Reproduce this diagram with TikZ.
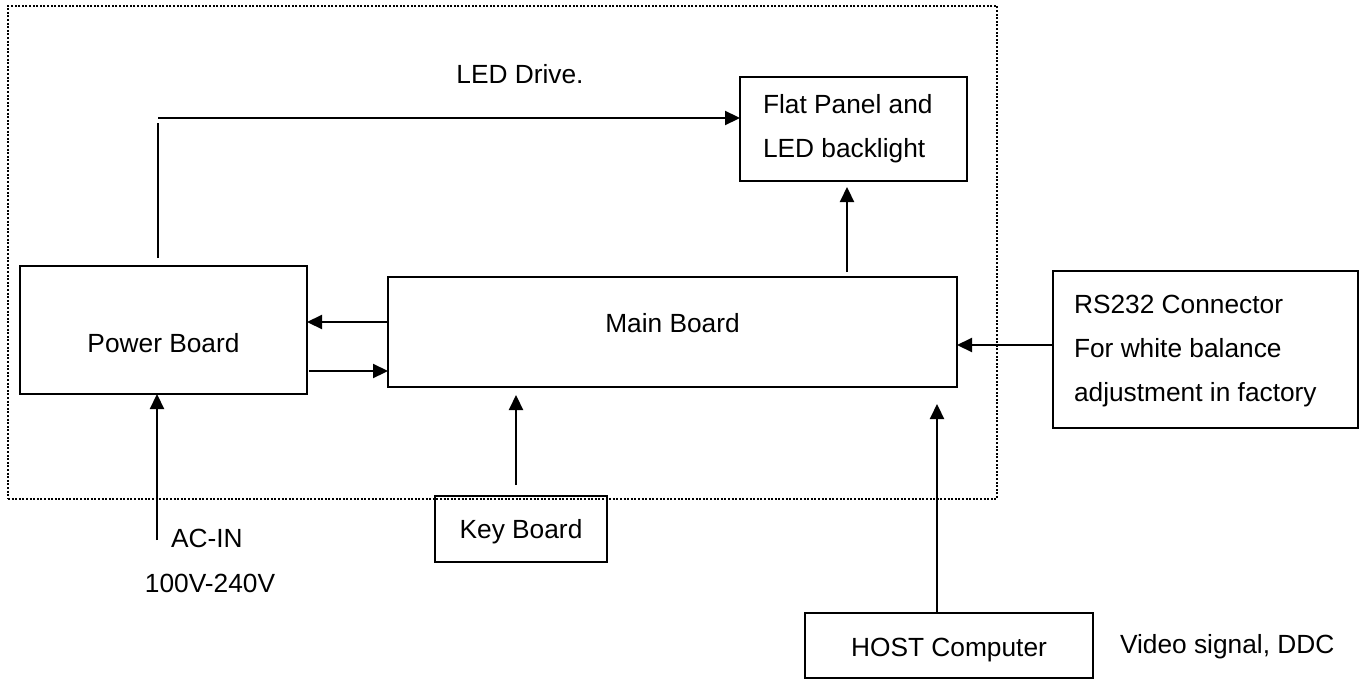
\documentclass[tikz,border=0pt]{standalone}
\usepackage{fontspec}
\setmainfont{Liberation Sans}
\usetikzlibrary{arrows.meta,calc}
\begin{document}
\begin{tikzpicture}[x=1pt,y=-1pt,
  box/.style={draw, line width=2.6pt, inner sep=0pt, outer sep=0pt, rectangle},
  txt/.style={inner sep=0pt, outer sep=0pt, font=\fontsize{26.3pt}{32pt}\selectfont},
  conn/.style={line width=2.2pt, -{Triangle[length=15pt,width=14pt]}},
  plainline/.style={line width=2.2pt},
  frame/.style={draw, line width=2pt, dash pattern=on 2pt off 1.6pt, inner sep=0pt, outer sep=0pt, rectangle}]
\useasboundingbox (0,0) rectangle (1364,680);
% frame
\node[frame, minimum width=989pt, minimum height=493pt] (frm) at (502.5,252.5) {};
% boxes
\node[box, minimum width=287pt, minimum height=128pt] (pwr) at (163.5,330) {};
\node[box, minimum width=569pt, minimum height=110pt] (main) at (672.5,332) {};
\node[box, minimum width=227pt, minimum height=104pt] (flat) at (853.5,129) {};
\node[box, minimum width=305pt, minimum height=157pt] (rs) at (1205.5,349.5) {};
\node[box, minimum width=172pt, minimum height=66pt] (key) at (521,529) {};
\node[box, minimum width=288pt, minimum height=65pt] (host) at (949,645.5) {};
% texts
\node[txt, anchor=base] (ledT) at (520,83) {LED Drive.};
\node[txt, anchor=base] (pwrT) at (163.5,352) {Power Board};
\node[txt, anchor=base] (mainT) at (672.5,332) {Main Board};
\node[txt, anchor=base west] (flatT1) at (763,113) {Flat Panel and};
\node[txt, anchor=base west] (flatT2) at (763,157) {LED backlight};
\node[txt, anchor=base west] (rsT1) at (1074,313) {RS232 Connector};
\node[txt, anchor=base west] (rsT2) at (1074,357) {For white balance};
\node[txt, anchor=base west] (rsT3) at (1074,401) {adjustment in factory};
\node[txt, anchor=base] (keyT) at (521,538.5) {Key Board};
\node[txt, anchor=base] (hostT) at (949,656) {HOST Computer};
\node[txt, anchor=base west] (acT) at (171,547) {AC-IN};
\node[txt, anchor=base] (voltT) at (210,592) {100V-240V};
\node[txt, anchor=base west] (vidT) at (1120,653) {Video signal, DDC};
% coordinates
\coordinate (ledBot) at (158,258);
\coordinate (ledTop) at (158,123);
\coordinate (ledCorner) at (158,118);
\coordinate (mfx) at (847,0);
\coordinate (y322) at (0,322);
\coordinate (y371) at (0,371);
\coordinate (y345) at (0,345);
\coordinate (acin) at (157,540);
\coordinate (kx) at (516,0);
\coordinate (hx) at (937,0);
% connectors
\draw[plainline] (ledBot) -- (ledTop);
\draw[conn] (ledCorner) -- (ledCorner -| flat.west);
\draw[conn, shorten >=6pt] ([yshift=5pt]main.north -| mfx) -- (flat.south -| mfx);
\draw[conn] (main.west |- y322) -- (pwr.east |- y322);
\draw[conn] ([xshift=2pt]pwr.east |- y371) -- (main.west |- y371);
\draw[conn] (rs.west |- y345) -- (main.east |- y345);
\draw[conn] (acin) -- (pwr.south -| acin);
\draw[conn, shorten <=11pt, shorten >=8pt] (key.north -| kx) -- (main.south -| kx);
\draw[conn, shorten >=17pt] (host.north -| hx) -- (main.south -| hx);
\end{tikzpicture}
\end{document}
